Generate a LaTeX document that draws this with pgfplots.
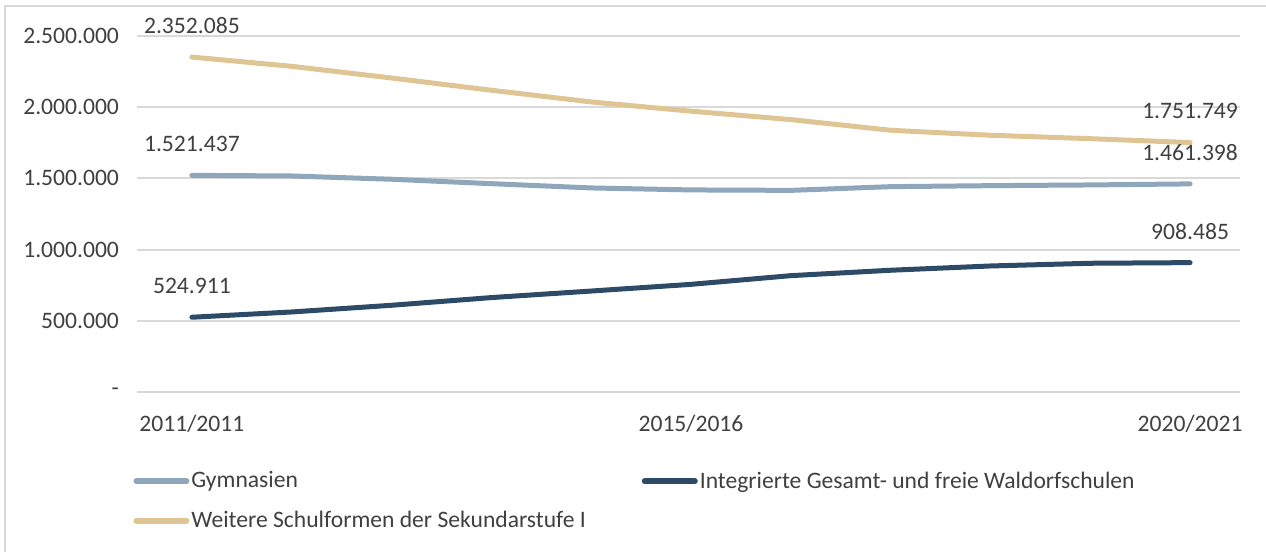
\documentclass[border=0pt]{standalone}
\usepackage{fontspec}
\setmainfont{Carlito}
\usepackage{pgfplots}
\pgfplotsset{compat=1.18}
\definecolor{gold}{HTML}{E0C594}
\definecolor{gymblue}{HTML}{8FA6BB}
\definecolor{navy}{HTML}{2D4A66}
\definecolor{txt}{HTML}{404040}
\definecolor{gridc}{HTML}{D9D9D9}
\newcommand{\cf}{\fontsize{11.8pt}{14pt}\selectfont}
\begin{document}
\begin{tikzpicture}
\useasboundingbox (0,0) rectangle (633pt,276pt);
\draw[gridc, line width=0.8pt] (2.5pt,0) -- (2.5pt,273pt) -- (633pt,273pt);
\begin{axis}[
  at={(68.5pt,80pt)}, anchor=south west,
  scale only axis, width=551.5pt, height=178pt,
  xmin=-0.55, xmax=10.5, ymin=0, ymax=2500000,
  clip=false,
  axis line style={draw=none},
  ytick={0,500000,1000000,1500000,2000000,2500000},
  yticklabels={-,500.000,1.000.000,1.500.000,2.000.000,2.500.000},
  xtick={0,5,10}, xticklabels={2011/2011,2015/2016,2020/2021},
  major tick length=0pt,
  ymajorgrids, grid style={gridc, line width=1pt},
  tick label style={font=\cf, text=txt},
  yticklabel style={xshift=-5.5pt},
  xticklabel style={yshift=-8pt},
  scaled y ticks=false,
  legend columns=2,
  legend cell align=left,
  legend style={at={(-0.0036,-0.217)}, anchor=north west, draw=none, fill=none,
    font=\cf, text=txt, inner sep=0pt, row sep=8pt,
    nodes={inner sep=1pt},
    /tikz/every even column/.append style={column sep=27pt}},
  legend image code/.code={\draw[#1, line width=3pt, line cap=round] (1.5pt,0pt) -- (26.5pt,0pt);},
]
\addplot[gymblue, line width=2.5pt, line cap=round, line join=round, mark=none] coordinates {
(0,1521437) (1,1517000) (2,1494000) (3,1463000) (4,1433000) (5,1419000)
(6,1416000) (7,1442000) (8,1449000) (9,1454000) (10,1461398)};
\addlegendentry{Gymnasien}
\addplot[navy, line width=2.5pt, line cap=round, line join=round, mark=none] coordinates {
(0,524911) (1,562000) (2,609000) (3,663000) (4,709000) (5,756000)
(6,817000) (7,855000) (8,885000) (9,904000) (10,908485)};
\addlegendentry{Integrierte Gesamt- und freie Waldorfschulen}
\addplot[gold, line width=2.5pt, line cap=round, line join=round, mark=none] coordinates {
(0,2352085) (1,2287000) (2,2205000) (3,2119000) (4,2037000) (5,1972000)
(6,1913000) (7,1838000) (8,1803000) (9,1779000) (10,1751749)};
\addlegendentry{Weitere Schulformen der Sekundarstufe I}
\addplot[forget plot, draw=none, mark=none, nodes near coords, point meta=explicit symbolic,
  every node near coord/.style={anchor=center, yshift=15.75pt, font=\cf, text=txt}]
  coordinates {(0,2352085) [2.352.085] (10,1751749) [1.751.749]
               (0,1521437) [1.521.437] (10,1461398) [1.461.398]
               (0,524911) [524.911] (10,908485) [908.485]};
\end{axis}
\end{tikzpicture}
\end{document}
